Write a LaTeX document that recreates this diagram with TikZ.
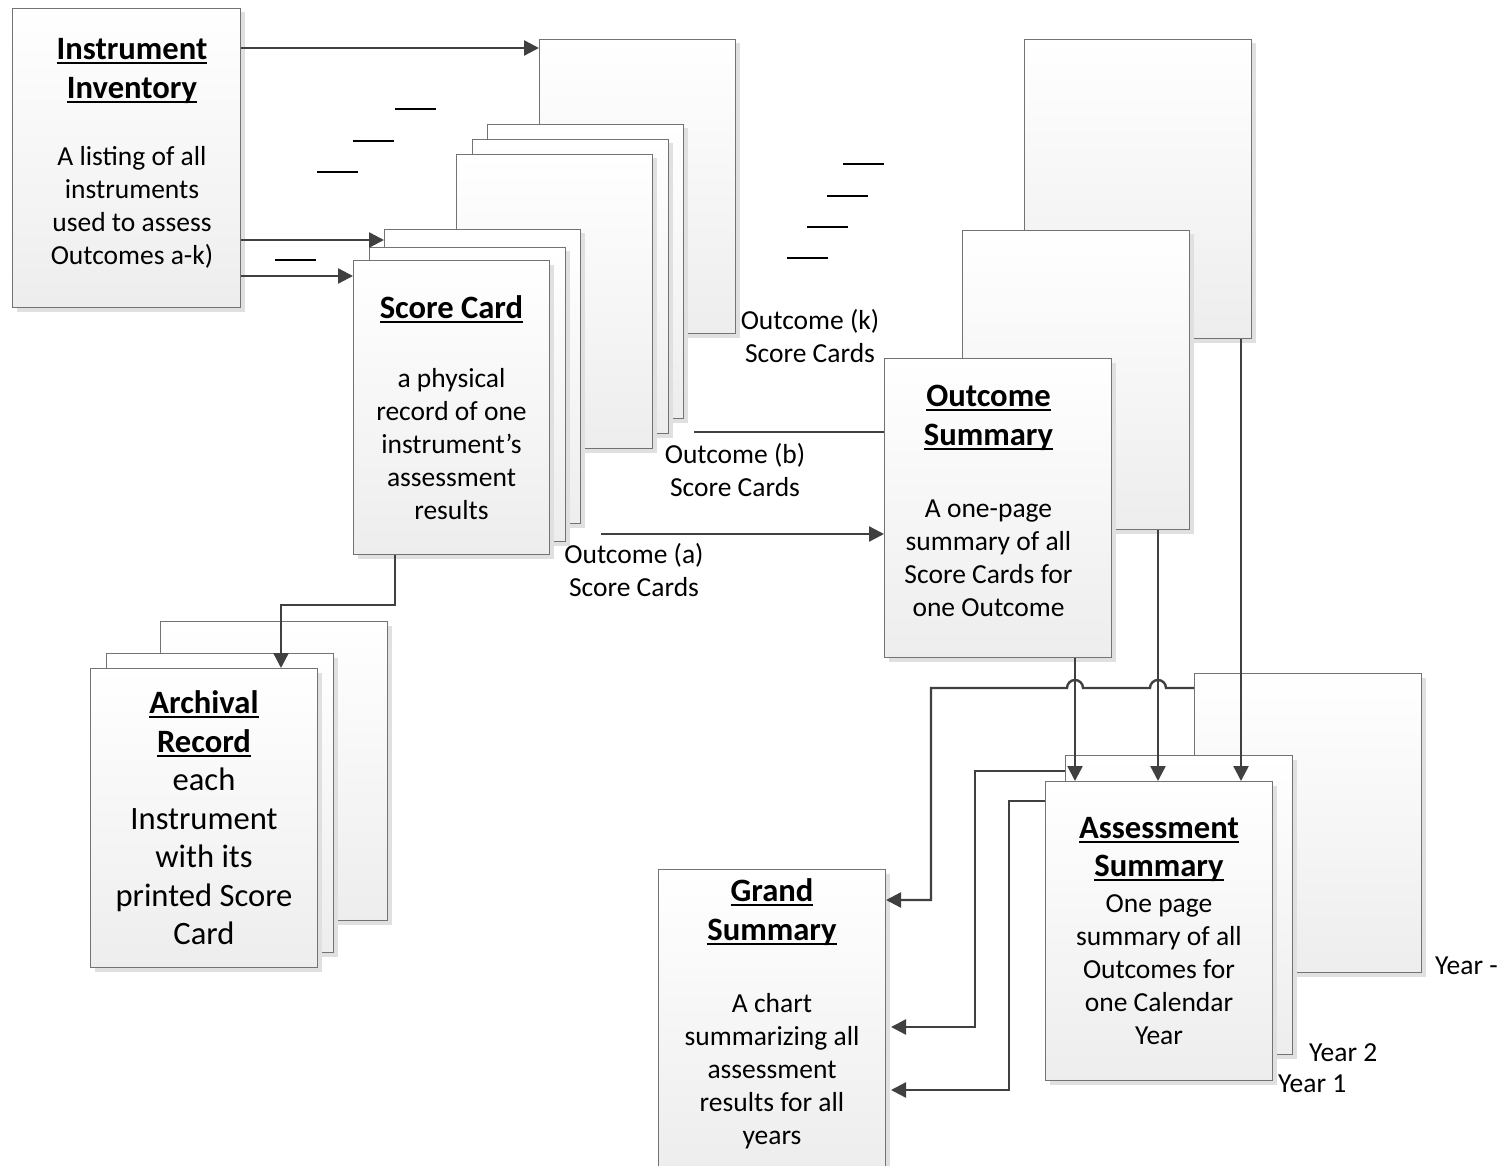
\documentclass[tikz,border=0pt]{standalone}
\usepackage{fontspec}
\setmainfont{Carlito}
\usetikzlibrary{arrows.meta, shadows, positioning}
\newcommand{\hd}[1]{{\fontsize{32.6}{39}\selectfont\bfseries\setbox0\hbox{#1}\rlap{\vrule height -2.6pt depth 4.5pt width \wd0}\box0}}

\begin{document}
\begin{tikzpicture}[x=1pt, y=-1pt,
  page/.style={draw=black!55, line width=1pt, top color=white, bottom color=black!7, inner sep=0pt, anchor=north west, minimum width=227pt, minimum height=299pt, align=center, font=\fontsize{27.5}{33}\selectfont, drop shadow={shadow xshift=4pt, shadow yshift=-4pt, fill=black!12, opacity=1}},
  card/.style={page, minimum width=196pt, minimum height=294pt},
  link/.style={draw=black!75, line width=2.4pt, -{Triangle[length=15pt, width=15pt]}},
  lbl/.style={font=\fontsize{27.5}{33}\selectfont, align=center, inner sep=0pt},
  dashline/.style={line width=2.2pt}]
  \useasboundingbox (0,0) rectangle (1506,1166);

  \node[card] (kcard) at (539,39) {};
  \node[card] (bcard3) at (487,124) {};
  \node[card] (bcard2) at (472,139) {};
  \node[card] (bcard1) at (456,154) {};
  \node[card] (acard3) at (384,229) {};
  \node[card] (acard2) at (369,247) {};
  \node[card] (scard) at (353,260) {\hd{Score Card}\\[36pt]a physical\\record of one\\instrument’s\\assessment\\results};

  \node[page] (osum3) at (1024,39) {};
  \node[page] (osum2) at (962,230) {};
  \node[page, font=\fontsize{27.5}{33}\selectfont\kern-19pt] (osum) at (884,358) {\hd{Outcome}\\[6pt]\hd{Summary}\\[39pt]A one-page\\summary of all\\Score Cards for\\one Outcome\\[-18pt]};

  \node[page] (yr3) at (1194,673) {};
  \node[page] (yr2) at (1065,755) {};
  \node[page] (asum) at (1045,781) {\hd{Assessment}\\[5pt]\hd{Summary}\\[3pt]One page\\summary of all\\Outcomes for\\one Calendar\\Year};

  \node[page] (arch3) at (160,621) {};
  \node[page] (arch2) at (106,653) {};
  \node[page, font=\fontsize{32.6}{38.5}\selectfont] (arch) at (90,668) {\hd{Archival}\\\hd{Record}\\each\\Instrument\\with its\\printed Score\\Card};

  \node[page, minimum width=228pt, font=\fontsize{27.5}{33}\selectfont\kern11pt] (inv) at (12,8) {\hd{Instrument}\\[6pt]\hd{Inventory}\\[34pt]A listing of all\\instruments\\used to assess\\Outcomes a-k)\\[-20pt]};
  \node[page] (grand) at (658,869) {\hd{Grand}\\[6pt]\hd{Summary}\\[39pt]A chart\\summarizing all\\assessment\\results for all\\years\\[-18pt]};

  \foreach \x/\y in {395/109, 353/141, 317/172, 275/260, 843/164, 827/196, 807/227, 787/258}
    \draw[dashline] (\x,\y) -- ++(41,0);

  \node[lbl] (klbl) at (810,336) {Outcome (k)\\Score Cards};
  \node[lbl] (blbl) at (735,470) {Outcome (b)\\Score Cards};
  \node[lbl] (albl) at (634,570) {Outcome (a)\\Score Cards};
  \node[lbl, anchor=west] (y3lbl) at (1435,966) {Year -};
  \node[lbl, anchor=west] (y2lbl) at (1309,1053) {Year 2};
  \node[lbl, anchor=west] (y1lbl) at (1278,1084) {Year 1};

  \draw[link] ([yshift=-40pt]inv.north east) coordinate (r1) -- (r1 -| kcard.west);
  \draw[link] ([yshift=-232pt]inv.north east) coordinate (r2) -- (r2 -| acard3.west);
  \draw[link] ([yshift=-268pt]inv.north east) coordinate (r3) -- (r3 -| scard.west);
  \draw[link] ([xshift=42pt]scard.south west) -- ++(0,50) -| ([xshift=191pt]arch.north west);
  \draw[link, -] ([xshift=41pt, yshift=17pt]bcard1.south east) coordinate (r4) -- (r4 -| osum.west);
  \draw[link] ([xshift=51pt, yshift=21pt]scard.south east) coordinate (r5) -- (r5 -| osum.west);
  \draw[link] ([xshift=191pt]osum.south west) coordinate (d1) -- (d1 |- asum.north);
  \draw[link] ([xshift=196pt]osum2.south west) coordinate (d2) -- (d2 |- asum.north);
  \draw[link] ([xshift=217pt]osum3.south west) coordinate (d3) -- (d3 |- asum.north);
  \draw[link] ([yshift=-15pt]yr3.north west) -- ++(-28,0) arc[start angle=0, end angle=180, radius=8pt] -- ++(-67,0) arc[start angle=0, end angle=180, radius=8pt] -- ++(-136,0) |- ([yshift=-31pt]grand.north east);
  \draw[link, shorten >=5pt] ([yshift=-16pt]yr2.north west) -- ++(-90,0) |- ([yshift=-158pt]grand.north east);
  \draw[link, shorten >=5pt] ([yshift=-20pt]asum.north west) -- ++(-36,0) |- ([yshift=-221pt]grand.north east);
\end{tikzpicture}
\end{document}
